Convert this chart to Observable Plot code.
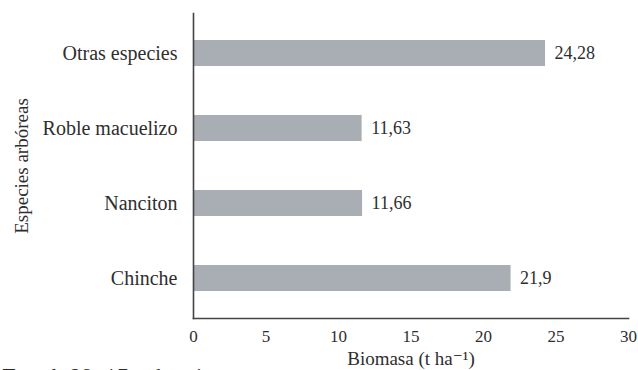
<!DOCTYPE html>
<html>
<head>
<meta charset="utf-8">
<script src="https://cdn.jsdelivr.net/npm/d3@7"></script>
<script src="https://cdn.jsdelivr.net/npm/@observablehq/plot@0.6"></script>
<style>
  html, body { margin: 0; padding: 0; background: #fff; overflow: hidden; }
  #chart svg { display: block; }
  #chart svg text { font-family: "Liberation Serif", "DejaVu Serif", serif !important; }
  #chart svg .total-note text { letter-spacing: 3px; }
</style>
</head>
<body>
<div id="chart"></div>
<script>
// Tree species (top to bottom) and their biomass in t ha-1
const species = ["Otras especies", "Roble macuelizo", "Nanciton", "Chinche"];
const biomass = [24.28, 11.63, 11.66, 21.9];
const valueLabels = ["24,28", "11,63", "11,66", "21,9"];
const xTicks = [0, 5, 10, 15, 20, 25, 30];
const totalLabel = "Total 69,47 t ha⁻¹";

const rows = species.map((s, i) => ({species: s, value: biomass[i], label: valueLabels[i]}));

const ink = "#2e2e2e";
const serif = "Liberation Serif";

const chart = Plot.plot({
  width: 638,
  height: 370,
  marginLeft: 193,
  marginRight: 10,
  marginTop: 13,
  marginBottom: 52,
  style: {fontSize: "16px", color: ink, background: "#fff"},
  x: {domain: [0, 30]},
  y: {domain: species, paddingInner: 0.65, paddingOuter: 0.35},
  marks: [
    Plot.barX(rows, {x: "value", y: "species", fill: "#a9aeb4"}),
    Plot.text(rows, {
      x: "value", y: "species", text: "label",
      textAnchor: "start", dx: 9, fontSize: 18, fontFamily: serif, fill: ink
    }),
    Plot.axisX({
      ticks: xTicks, tickSize: 0, tickPadding: 11, fontSize: 17, fontFamily: serif,
      label: null
    }),
    Plot.axisX({
      ticks: [], tickSize: 0, fontSize: 19, fontFamily: serif,
      label: "Biomasa (t ha⁻¹)", labelAnchor: "center", labelArrow: "none", labelOffset: 46
    }),
    Plot.axisY({
      tickSize: 0, tickPadding: 16, fontSize: 20, fontFamily: serif,
      label: null
    }),
    Plot.axisY({
      ticks: [], tickSize: 0, fontSize: 19, fontFamily: serif,
      label: "Especies arbóreas", labelAnchor: "center", labelArrow: "none", labelOffset: 179
    }),
    Plot.frame({anchor: "left", stroke: "#444", strokeWidth: 1.6}),
    Plot.frame({anchor: "bottom", stroke: "#444", strokeWidth: 1.6}),
    Plot.text([totalLabel], {
      frameAnchor: "bottom-left", dx: -191, dy: 50, className: "total-note",
      lineAnchor: "top", textAnchor: "start", fontSize: 21, fontFamily: serif, fill: ink
    })
  ]
});

document.getElementById("chart").appendChild(chart);
</script>
</body>
</html>
